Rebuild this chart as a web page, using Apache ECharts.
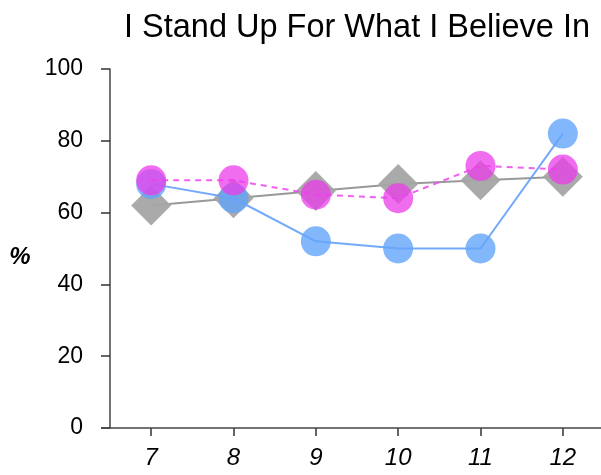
<!DOCTYPE html>
<html><head><meta charset="utf-8">
<script src="https://cdn.jsdelivr.net/npm/echarts@6/dist/echarts.min.js"></script>
<style>html,body{margin:0;padding:0;background:#fff}#c{width:601px;height:475px}</style>
</head><body><div id="c"></div>
<script>
const grades = ['7','8','9','10','11','12'];
const graySeries = [62, 64, 66, 68, 69, 70];
const blueSeries = [68, 64, 52, 50, 50, 82];
const magentaSeries = [69, 69, 65, 64, 73, 72];
const yTicks = [0, 20, 40, 60, 80, 100];

const chart = echarts.init(document.getElementById('c'), null, {renderer:'canvas'});
const FONT = 'Liberation Sans, Arial, Helvetica, sans-serif';
chart.setOption({
  animation: false,
  title: [{
    text: 'I Stand Up For What I Believe In',
    left: 352, top: 7, textAlign: 'center',
    textStyle: {fontFamily: FONT, fontSize: 32.5, fontWeight: 'normal', color: '#000'}
  }, {
    text: '%', left: 15, top: 240, textAlign: 'center',
    textStyle: {fontFamily: FONT, fontSize: 24, fontStyle: 'italic', fontWeight: 'bold', color: '#000'}
  }],
  grid: {left: 110, top: 69, width: 494, bottom: 47, containLabel: false, outerBoundsMode: 'none'},
  xAxis: {
    type: 'category', data: grades, boundaryGap: true,
    axisLine: {show: false},
    axisTick: {show: true, alignWithLabel: true, length: 8, lineStyle: {color: '#333', width: 1.5}},
    axisLabel: {fontFamily: FONT, fontSize: 24, fontStyle: 'italic', color: '#000', margin: 18}
  },
  yAxis: {
    type: 'value', min: yTicks[0], max: yTicks[yTicks.length-1], interval: 20,
    splitLine: {show: false},
    axisLine: {show: true, lineStyle: {color: '#444', width: 1.5}},
    axisTick: {show: true, length: 9, lineStyle: {color: '#333', width: 1.5}},
    axisLabel: {fontFamily: FONT, fontSize: 23, color: '#000', margin: 27}
  },
  graphic: [{
    type: 'line', shape: {x1: 101, y1: 428, x2: 601, y2: 428},
    style: {stroke: '#444', lineWidth: 1.5}, z: 10
  }],
  series: [
    {type: 'line', data: graySeries, symbol: 'diamond', symbolSize: 40,
     lineStyle: {color: '#999999', width: 2},
     itemStyle: {color: 'rgba(165,165,165,0.95)'}, z: 2},
    {type: 'line', data: blueSeries, symbol: 'circle', symbolSize: 30,
     lineStyle: {color: 'rgba(100,160,250,0.9)', width: 2},
     itemStyle: {color: 'rgba(100,165,250,0.8)'}, z: 3},
    {type: 'line', data: magentaSeries, symbol: 'circle', symbolSize: 30,
     lineStyle: {color: 'rgba(240,80,240,0.9)', width: 2, type: [6, 5]},
     itemStyle: {color: 'rgba(235,60,235,0.75)'}, z: 4}
  ]
});
</script></body></html>
